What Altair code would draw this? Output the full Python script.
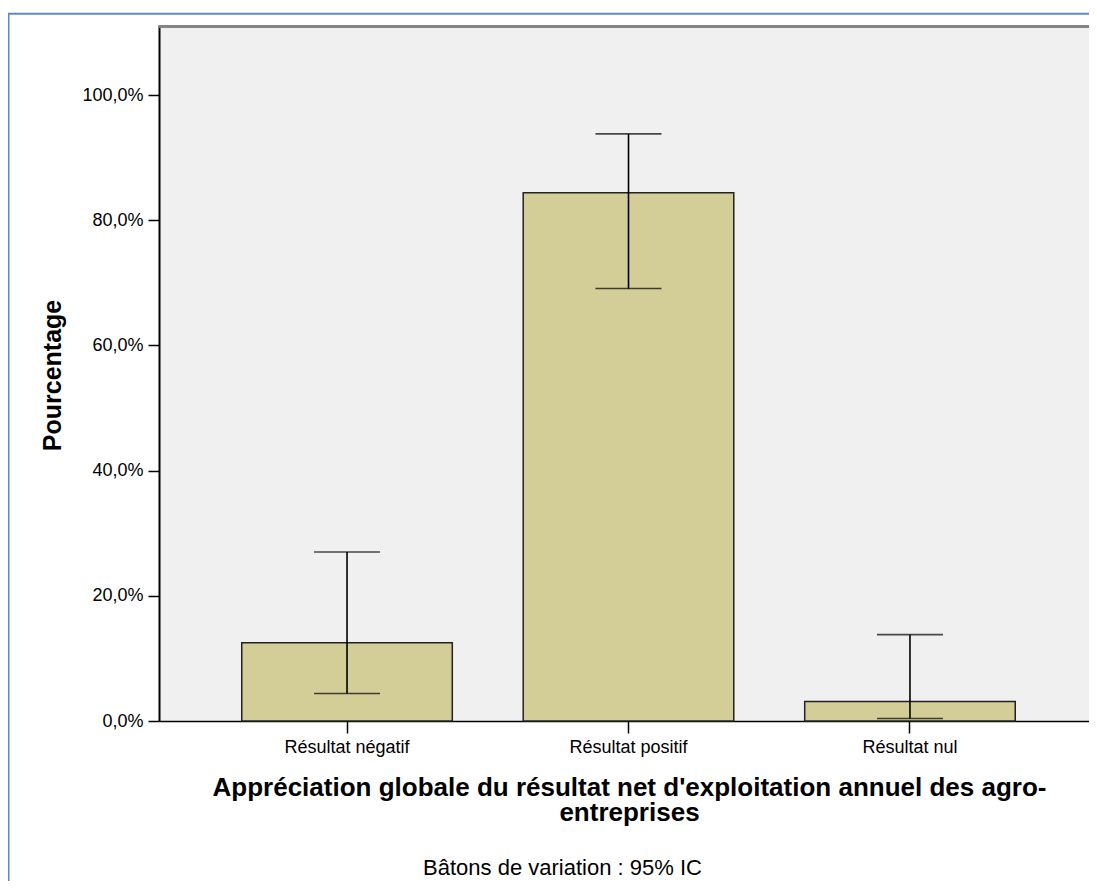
import altair as alt
import pandas as pd

categories = ["Résultat négatif", "Résultat positif", "Résultat nul"]
percent = [12.5, 84.4, 3.1]
ci_low = [4.4, 69.1, 0.4]
ci_high = [27.0, 93.8, 13.8]
y_ticks = [0, 20, 40, 60, 80, 100]
x_title = ["Appréciation globale du résultat net d'exploitation annuel des agro-", "entreprises"]
y_title = "Pourcentage"
note = "Bâtons de variation : 95% IC"

FONT = "Liberation Sans"
W, H = 930, 696

df = pd.DataFrame({"cat": categories, "pct": percent, "lo": ci_low, "hi": ci_high})
one = pd.DataFrame({"note": [note]})

xscale = alt.Scale(domain=categories, range=[0, 939], paddingInner=0.252, paddingOuter=0.294)
yscale = alt.Scale(domain=[0, 111.2], nice=False, zero=True)

xenc = alt.X("cat:N", scale=xscale, sort=categories,
             axis=alt.Axis(title=x_title, labelAngle=0, labelFont=FONT, labelFontSize=18,
                           labelColor="#000000", labelPadding=5, tickSize=12, tickWidth=1.5,
                           tickColor="#000000", domainColor="#000000", domainWidth=1.5,
                           titleFont=FONT, titleFontSize=26, titleFontWeight="bold",
                           titleColor="#000000", titleX=470, titleY=74,
                           titleBaseline="alphabetic", titleLineHeight=25, titleAlign="center"))

yenc = alt.Y("pct:Q", scale=yscale,
             axis=alt.Axis(title=y_title, values=y_ticks, grid=False,
                           labelExpr="replace(format(datum.value, '.1f'), '.', ',') + '%'",
                           labelFont=FONT, labelFontSize=18, labelColor="#000000",
                           labelPadding=5, tickSize=11, tickWidth=1.5, tickColor="#000000",
                           domainColor="#000000", domainWidth=2,
                           titleFont=FONT, titleFontSize=25, titleFontWeight="bold",
                           titleColor="#000000", titleX=-107, titleY=350, titleAngle=270,
                           titleBaseline="middle", titleAlign="center"))

base = alt.Chart(df)

bars = base.mark_bar(fill="#d3ce98", stroke="#222222", strokeWidth=1.5).encode(x=xenc, y=yenc)

err = base.mark_rule(color="#000000", strokeWidth=1.6).encode(
    x=alt.X("cat:N", scale=xscale, sort=categories),
    y=alt.Y("lo:Q", scale=yscale),
    y2="hi:Q")

cap_lo = base.mark_tick(color="#000000", thickness=1.6, size=66, orient="horizontal").encode(
    x=alt.X("cat:N", scale=xscale, sort=categories),
    y=alt.Y("lo:Q", scale=yscale))

cap_hi = base.mark_tick(color="#000000", thickness=1.6, size=66, orient="horizontal").encode(
    x=alt.X("cat:N", scale=xscale, sort=categories),
    y=alt.Y("hi:Q", scale=yscale))

top_line = alt.Chart(one).mark_rule(color="#858585", strokeWidth=3).encode(
    x=alt.value(0), x2=alt.value(W), y=alt.value(1.5))

blue_left = alt.Chart(one).mark_rule(color="#5a8ac6", strokeWidth=2).encode(
    x=alt.value(-150.5), y=alt.value(-11.2), y2=alt.value(H + 160))

blue_top = alt.Chart(one).mark_rule(color="#5a8ac6", strokeWidth=2).encode(
    x=alt.value(-151.5), x2=alt.value(W), y=alt.value(-11.2))

note_text = alt.Chart(one).mark_text(font=FONT, fontSize=22, color="#000000",
                                      align="center", baseline="alphabetic").encode(
    x=alt.value(403.5), y=alt.value(850), text="note:N")

chart = alt.layer(bars, err, cap_lo, cap_hi, top_line, blue_left, blue_top, note_text).properties(
    width=W, height=H,
    autosize=alt.AutoSizeParams(type="none"),
    padding={"left": 151, "top": 17, "right": 0, "bottom": 160},
    background="#ffffff",
).configure_view(fill="#f0f0f0", stroke=None)

chart.save("out.html", embed_options={"renderer": "svg", "actions": False})
